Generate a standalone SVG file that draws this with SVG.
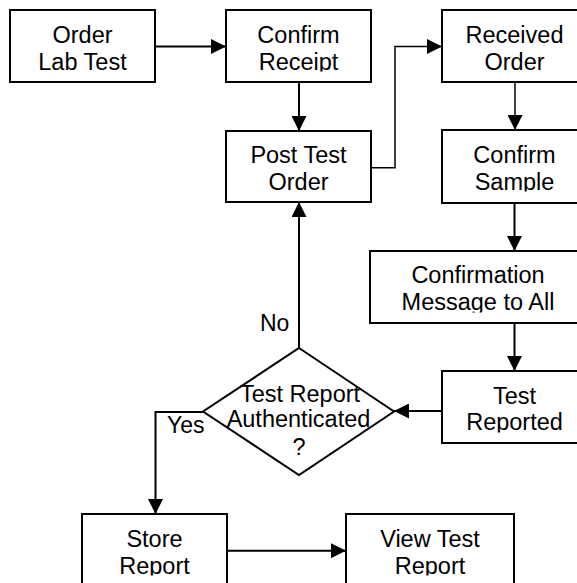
<svg xmlns="http://www.w3.org/2000/svg" width="577" height="583" viewBox="0 0 577 583">
  <style>
    .box { fill: #ffffff; stroke: #000000; stroke-width: 2; }
    .lbl { font-family: "Liberation Sans", Arial, sans-serif; font-size: 23.5px; fill: #000000; text-anchor: middle; }
    .edge { fill: none; stroke: #000000; stroke-width: 2; }
    .thin { stroke-width: 1.5; }
    .tag { font-family: "Liberation Sans", Arial, sans-serif; font-size: 23px; fill: #000000; }
  </style>
  <defs>
    <marker id="arrow" viewBox="0 0 15 15" refX="15" refY="7.5" markerWidth="15" markerHeight="15" markerUnits="userSpaceOnUse" orient="auto">
      <path d="M0,0 L15,7.5 L0,15 Z" fill="#000000"/>
    </marker>
    <!-- text areas stop just below the second baseline -->
    <clipPath id="clip-order"><rect x="10" y="10" width="145" height="61.5"/></clipPath>
    <clipPath id="clip-receipt"><rect x="226" y="10" width="145" height="61.5"/></clipPath>
    <clipPath id="clip-post"><rect x="226" y="131" width="145" height="61.5"/></clipPath>
    <clipPath id="clip-received"><rect x="442" y="10" width="145" height="61.5"/></clipPath>
    <clipPath id="clip-sample"><rect x="442" y="130" width="145" height="61.5"/></clipPath>
    <clipPath id="clip-message"><rect x="370" y="251" width="216" height="61.5"/></clipPath>
    <clipPath id="clip-reported"><rect x="442" y="371" width="145" height="61.5"/></clipPath>
    <clipPath id="clip-store"><rect x="82" y="514" width="145" height="61.5"/></clipPath>
    <clipPath id="clip-view"><rect x="346" y="514" width="168" height="61.5"/></clipPath>
  </defs>

  <g id="connectors">
    <path class="edge" d="M155,46.5 H226" marker-end="url(#arrow)"/>
    <path class="edge" d="M299,82 V131" marker-end="url(#arrow)"/>
    <path class="edge thin" d="M371,167.7 H395 V46.5 H442" marker-end="url(#arrow)"/>
    <path class="edge thin" d="M515,82 V130" marker-end="url(#arrow)"/>
    <path class="edge" d="M514.5,203 V251" marker-end="url(#arrow)"/>
    <path class="edge" d="M514.5,323 V371" marker-end="url(#arrow)"/>
    <path class="edge" d="M442,411 H394" marker-end="url(#arrow)"/>
    <path class="edge" d="M299,348 V202" marker-end="url(#arrow)"/>
    <path class="edge" d="M203,412 H155.5 V514" marker-end="url(#arrow)"/>
    <path class="edge" d="M227,550.7 H346" marker-end="url(#arrow)"/>
    <text class="tag" x="260" y="331">No</text>
    <text class="tag" x="167" y="433">Yes</text>
  </g>

  <g id="order-lab-test">
    <rect class="box" x="10" y="10" width="145" height="72"/>
    <g clip-path="url(#clip-order)">
      <text class="lbl" x="82.5" y="43">Order</text>
      <text class="lbl" x="82.5" y="70">Lab Test</text>
    </g>
  </g>

  <g id="confirm-receipt">
    <rect class="box" x="226" y="10" width="145" height="72"/>
    <g clip-path="url(#clip-receipt)">
      <text class="lbl" x="298.5" y="43">Confirm</text>
      <text class="lbl" x="298.5" y="70">Receipt</text>
    </g>
  </g>

  <g id="post-test-order">
    <rect class="box" x="226" y="131" width="145" height="71"/>
    <g clip-path="url(#clip-post)">
      <text class="lbl" x="298.5" y="163">Post Test</text>
      <text class="lbl" x="298.5" y="190">Order</text>
    </g>
  </g>

  <g id="received-order">
    <rect class="box" x="442" y="10" width="145" height="72"/>
    <g clip-path="url(#clip-received)">
      <text class="lbl" x="514.5" y="43">Received</text>
      <text class="lbl" x="514.5" y="70">Order</text>
    </g>
  </g>

  <g id="confirm-sample">
    <rect class="box" x="442" y="130" width="145" height="73"/>
    <g clip-path="url(#clip-sample)">
      <text class="lbl" x="514.5" y="163">Confirm</text>
      <text class="lbl" x="514.5" y="190">Sample</text>
    </g>
  </g>

  <g id="confirmation-message">
    <rect class="box" x="370" y="251" width="216" height="72"/>
    <g clip-path="url(#clip-message)">
      <text class="lbl" x="478" y="283">Confirmation</text>
      <text class="lbl" x="478" y="310">Message to All</text>
    </g>
  </g>

  <g id="test-reported">
    <rect class="box" x="442" y="371" width="145" height="72"/>
    <g clip-path="url(#clip-reported)">
      <text class="lbl" x="514.5" y="403.5">Test</text>
      <text class="lbl" x="514.5" y="430">Reported</text>
    </g>
  </g>

  <g id="authenticated-decision">
    <polygon class="box" points="299,348 394,411.5 299,475 203,411.5"/>
    <text class="lbl" x="300" y="401.5">Test Report</text>
    <text class="lbl" x="298.5" y="427">Authenticated</text>
    <text class="lbl" x="299" y="455">?</text>
  </g>

  <g id="store-report">
    <rect class="box" x="82" y="514" width="145" height="80"/>
    <g clip-path="url(#clip-store)">
      <text class="lbl" x="154.5" y="546.5">Store</text>
      <text class="lbl" x="154.5" y="574">Report</text>
    </g>
  </g>

  <g id="view-test-report">
    <rect class="box" x="346" y="514" width="168" height="80"/>
    <g clip-path="url(#clip-view)">
      <text class="lbl" x="430" y="546.5">View Test</text>
      <text class="lbl" x="430" y="574">Report</text>
    </g>
  </g>
</svg>
